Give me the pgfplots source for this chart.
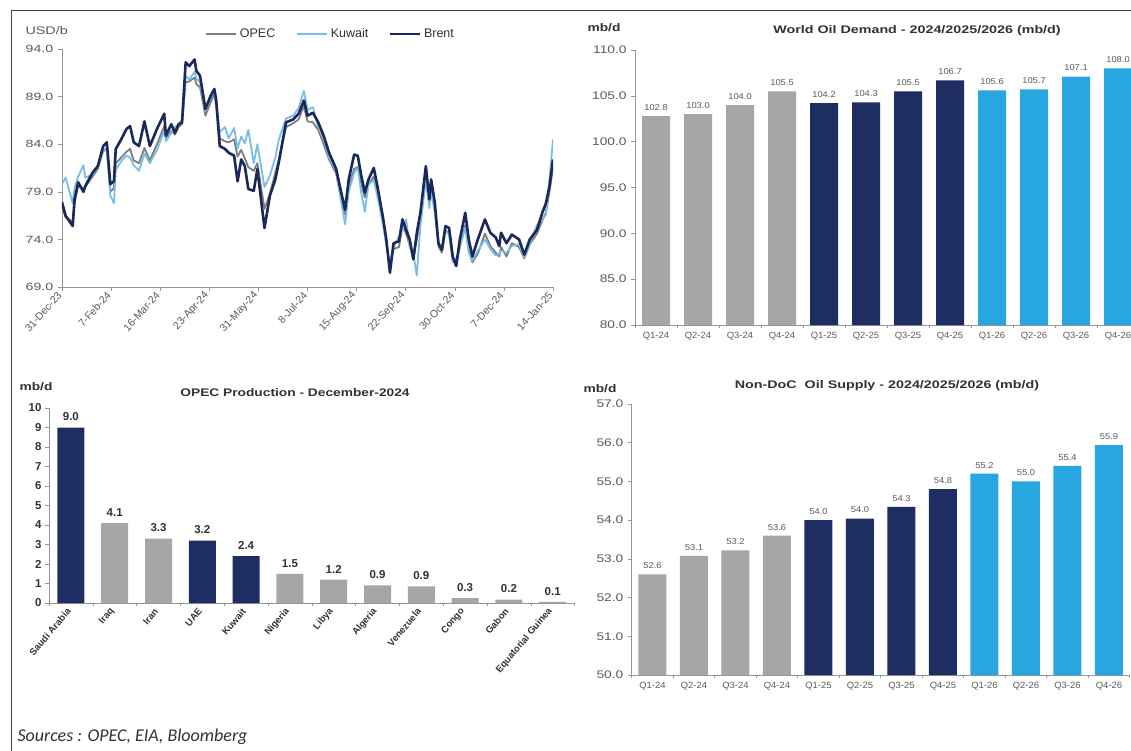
\documentclass[border=0pt]{standalone}
\usepackage{pgfplots}
\pgfplotsset{compat=1.18}
\usepackage{pgfplotstable}
\usepackage{fontspec}
\setmainfont{Liberation Sans}
\newfontfamily\srcfont{Carlito}

\definecolor{navy}{RGB}{30,46,98}
\definecolor{brentc}{RGB}{27,40,90}
\definecolor{opecc}{RGB}{125,125,125}
\definecolor{kuwc}{RGB}{120,190,232}
\definecolor{barg}{RGB}{166,166,166}
\definecolor{barl}{RGB}{40,166,224}
\definecolor{axgray}{RGB}{150,150,150}
\definecolor{txtgray}{RGB}{90,90,90}
\definecolor{txtdark}{RGB}{50,50,50}

% daily prices (day 0 = 31-Dec-23)
\pgfplotstableread{
day brent opec kuwait
0 77.9 77.5 79.8
2.8 76.5 76.3 80.5
8.3 75.4 75.9 77.8
9.7 78.2 77.8 79.4
12.5 80.0 79.6 80.6
16.6 79.0 79.3 81.8
18.0 79.6 79.5 80.5
23.6 81.0 80.6 80.8
27.7 81.7 81.4 81.6
31.9 83.8 83.3 83.2
34.7 84.2 83.6 83.5
37.4 79.8 79.0 78.6
40.2 80.1 79.4 77.8
41.6 83.5 82.0 81.3
45.8 84.5 82.6 82.2
49.9 85.6 83.2 82.8
52.7 85.9 83.5 82.6
55.5 84.2 82.3 81.8
59.6 83.8 82.0 81.2
63.8 86.4 83.6 83.0
68.0 83.8 82.3 82.0
73.5 85.6 84.0 83.4
79.1 87.2 85.9 85.4
80.4 84.9 84.6 84.3
84.6 86.1 85.4 85.2
87.4 85.2 85.0 85.8
90.2 86.1 85.8 86.0
92.9 86.3 86.1 86.6
95.7 92.6 90.5 91.2
98.5 92.2 90.6 90.8
102.6 92.9 91.0 91.6
104.0 91.7 90.3 90.9
106.8 91.2 90.0 90.5
111.0 87.7 87.0 87.5
115.1 89.1 88.4 88.9
117.9 89.8 89.3 89.5
119.3 88.7 88.0 88.2
122.1 83.8 84.6 85.3
126.2 83.5 84.3 85.8
129.0 83.1 84.2 84.6
133.2 82.8 84.5 85.7
135.9 80.1 82.7 83.6
138.7 82.4 83.4 84.8
141.5 81.7 82.5 84.1
144.2 79.3 81.6 85.5
148.4 79.1 81.2 82.0
151.2 81.4 82.0 84.0
156.7 75.2 77.2 79.5
160.9 78.6 78.8 80.7
165.1 80.3 81.0 82.6
167.8 82.1 82.4 84.5
173.4 86.3 85.8 86.7
178.9 86.6 86.2 87.0
183.1 87.2 86.6 87.8
187.2 88.6 88.0 89.6
190.0 87.0 86.4 87.6
194.2 87.3 86.3 87.9
198.3 86.3 85.5 85.8
202.5 84.9 84.0 84.6
206.7 83.1 82.4 82.6
212.2 81.4 80.9 81.2
215.0 79.6 79.0 78.8
219.1 77.1 76.6 75.6
221.9 80.3 79.6 79.0
226.1 82.9 81.4 81.0
228.9 82.8 81.6 81.5
231.6 80.7 79.9 78.9
234.4 78.9 78.4 76.9
237.2 80.3 79.8 79.8
241.3 81.5 80.6 80.2
244.1 79.6 78.9 78.5
248.3 76.4 76.0 75.7
251.0 74.0 73.5 73.4
253.8 70.5 71.2 71.5
256.6 73.6 73.0 73.2
260.8 73.8 73.2 74.3
263.5 76.1 75.4 75.0
266.3 75.0 74.6 76.1
269.1 74.0 73.4 73.2
271.9 71.9 72.0 72.5
274.6 74.7 74.0 70.2
277.4 76.8 76.0 75.5
281.6 81.7 80.6 80.2
284.3 78.2 77.8 77.3
285.7 80.3 79.6 79.0
288.5 77.9 77.2 76.8
291.3 73.6 73.3 73.8
294.0 72.9 72.6 72.8
296.8 75.4 75.0 74.9
299.6 75.2 74.6 74.5
302.4 72.2 71.8 71.6
305.1 71.2 71.5 72.0
307.9 74.0 73.2 73.3
312.1 76.8 75.5 75.2
314.8 74.0 72.8 72.6
317.6 72.2 71.6 71.8
321.8 74.0 72.5 72.8
327.3 76.1 74.6 74.0
331.5 74.7 73.3 73.0
335.7 74.2 72.6 72.3
338.4 73.3 72.2 72.5
339.8 74.7 73.2 72.8
344.0 73.6 72.2 72.6
348.1 74.5 73.6 73.3
353.7 74.0 73.2 73.5
357.8 72.4 72.0 72.1
362.0 74.0 73.5 73.6
367.6 75.0 74.6 75.5
371.7 76.8 76.0 76.1
374.5 77.8 76.8 76.6
377.3 79.6 79.0 80.3
380.0 82.4 81.5 84.5
}\prices

\pgfplotsset{
  panel/.style={
    scale only axis, anchor=south west,
    axis lines*=left,
    axis line style={axgray, line width=0.8pt},
    tick style={axgray, line width=0.6pt},
    tick align=outside, major tick length=4pt, minor tick length=3pt,
    /pgf/number format/assume math mode=true,
  },
  onedec/.style={
    yticklabel style={/pgf/number format/fixed, /pgf/number format/fixed zerofill, /pgf/number format/precision=1},
  },
  quarters/.style={
    onedec,
    xmin=-0.5, xmax=11.5,
    xtick={0,...,11},
    xticklabels={Q1-24,Q2-24,Q3-24,Q4-24,Q1-25,Q2-25,Q3-25,Q4-25,Q1-26,Q2-26,Q3-26,Q4-26},
    major x tick style={draw=none},
    minor xtick={-0.5,0.5,...,11.5},
    x tick label style={font=\fontsize{9}{10}\selectfont, text=txtgray, xscale=1.05},
    y tick label style={font=\fontsize{11}{12}\selectfont, text=txtgray, xscale=1.25},
    nodes near coords={\pgfmathprintnumber[fixed,fixed zerofill,precision=1,assume math mode=true]{\pgfplotspointmeta}},
    every node near coord/.append style={font=\fontsize{8.5}{10}\selectfont, text=txtgray, xscale=1.1, yshift=2pt},
  },
}

\begin{document}
\begin{tikzpicture}
\useasboundingbox (0pt,0pt) rectangle (1131pt,-750pt);
\clip (0pt,0pt) rectangle (1131pt,-750pt);
\fill[white] (0pt,0pt) rectangle (1131pt,-750pt);
\draw[black!75, line width=1pt] (11pt,-760pt) -- (11pt,-10pt) -- (1140pt,-10pt);

% ---- Panel 1: prices
\begin{axis}[panel, onedec,
  at={(62pt,-287pt)}, width=491pt, height=238pt,
  xmin=0, xmax=380, ymin=69, ymax=94,
  xtick={0,38,76,114,152,190,228,266,304,342,380},
  xticklabels={31-Dec-23,7-Feb-24,16-Mar-24,23-Apr-24,31-May-24,8-Jul-24,15-Aug-24,22-Sep-24,30-Oct-24,7-Dec-24,14-Jan-25},
  x tick label style={rotate=48, anchor=east, font=\fontsize{10.5}{12}\selectfont, text=txtgray},
  ytick={69,74,...,94},
  y tick label style={font=\fontsize{10.5}{12}\selectfont, text=txtgray, xscale=1.35},
  legend columns=3,
  legend style={draw=none, fill=none, at={(0.546,1.063)}, anchor=center,
    font=\fontsize{12.5}{14}\selectfont, text=txtdark,
    /tikz/every odd column/.append style={column sep=1pt},
    /tikz/every even column/.append style={column sep=18pt}},
  legend image code/.code={\draw[#1, line width=2.6pt] (0pt,0pt) -- (30pt,0pt);},
  line join=round,
]
\addplot[opecc, line width=1.8pt, mark=none] table[x=day, y=opec] {\prices};
\addlegendentry{OPEC}
\addplot[kuwc, line width=1.8pt, mark=none] table[x=day, y=kuwait] {\prices};
\addlegendentry{Kuwait}
\addplot[brentc, line width=2.6pt, mark=none] table[x=day, y=brent] {\prices};
\addlegendentry{Brent}
\end{axis}
\node[anchor=west, font=\fontsize{11}{12}\selectfont, text=txtgray, xscale=1.3] at (21pt,-31pt) {USD/b};

% ---- Panel 2: world oil demand
\begin{axis}[panel, quarters,
  at={(635pt,-325pt)}, width=504pt, height=275pt,
  ymin=80, ymax=110, ytick={80,85,...,110},
]
\addplot[ybar, bar width=28pt, fill=barg, draw=none] coordinates {(0,102.8) (1,103.0) (2,104.0) (3,105.5)};
\addplot[ybar, bar width=28pt, fill=navy, draw=none] coordinates {(4,104.2) (5,104.3) (6,105.5) (7,106.7)};
\addplot[ybar, bar width=28pt, fill=barl, draw=none] coordinates {(8,105.6) (9,105.7) (10,107.1) (11,108.0)};
\end{axis}
\node[font=\bfseries\fontsize{11}{12}\selectfont, text=txtdark, xscale=1.25] at (604pt,-28pt) {mb/d};
\node[font=\bfseries\fontsize{11}{12}\selectfont, text=txtdark, xscale=1.3] at (917pt,-31pt) {World Oil Demand - 2024/2025/2026 (mb/d)};

% ---- Panel 3: OPEC production
\begin{axis}[panel,
  at={(49pt,-603pt)}, width=525.6pt, height=195pt,
  xmin=-0.5, xmax=11.5, ymin=0, ymax=10,
  xtick={0,...,11},
  xticklabels={Saudi Arabia,Iraq,Iran,UAE,Kuwait,Nigeria,Libya,Algeria,Venezuela,Congo,Gabon,Equatorial Guinea},
  major x tick style={draw=none},
  minor xtick={-0.5,0.5,...,11.5},
  x tick label style={rotate=50, anchor=east, font=\bfseries\fontsize{9.5}{11}\selectfont, text=txtdark},
  ytick={0,1,...,10},
  y tick label style={font=\bfseries\fontsize{11.5}{12}\selectfont, text=txtdark},
  nodes near coords={\pgfmathprintnumber[fixed,fixed zerofill,precision=1,assume math mode=true]{\pgfplotspointmeta}},
  every node near coord/.append style={font=\bfseries\fontsize{11.5}{12}\selectfont, text=txtdark, yshift=3pt},
]
\addplot[ybar, bar width=27pt, fill=navy, draw=none] coordinates {(0,9.0) (3,3.2) (4,2.4)};
\addplot[ybar, bar width=27pt, fill=barg, draw=none] coordinates {(1,4.1) (2,3.3) (5,1.5) (6,1.2) (7,0.9) (8,0.85) (9,0.25) (10,0.18) (11,0.06)};
\end{axis}
\node[font=\bfseries\fontsize{11}{12}\selectfont, text=txtdark, xscale=1.25] at (36pt,-387pt) {mb/d};
\node[font=\bfseries\fontsize{11}{12}\selectfont, text=txtdark, xscale=1.25] at (295pt,-393pt) {OPEC Production - December-2024};

% ---- Panel 4: non-DoC supply
\begin{axis}[panel, quarters,
  at={(631.7pt,-675pt)}, width=498pt, height=271pt,
  ymin=50, ymax=57, ytick={50,51,...,57},
]
\addplot[ybar, bar width=28pt, fill=barg, draw=none] coordinates {(0,52.6) (1,53.08) (2,53.22) (3,53.6)};
\addplot[ybar, bar width=28pt, fill=navy, draw=none] coordinates {(4,54.0) (5,54.04) (6,54.34) (7,54.8)};
\addplot[ybar, bar width=28pt, fill=barl, draw=none] coordinates {(8,55.2) (9,55.0) (10,55.4) (11,55.94)};
\end{axis}
\node[font=\bfseries\fontsize{11}{12}\selectfont, text=txtdark, xscale=1.25] at (600pt,-389pt) {mb/d};
\node[font=\bfseries\fontsize{11}{12}\selectfont, text=txtdark, xscale=1.3] at (887pt,-386pt) {Non-DoC\ \ Oil Supply - 2024/2025/2026 (mb/d)};

\node[anchor=west, font=\srcfont\itshape\fontsize{18}{20}\selectfont, text=txtdark] at (14pt,-737pt) {Sources : OPEC, EIA, Bloomberg};
\end{tikzpicture}
\end{document}
